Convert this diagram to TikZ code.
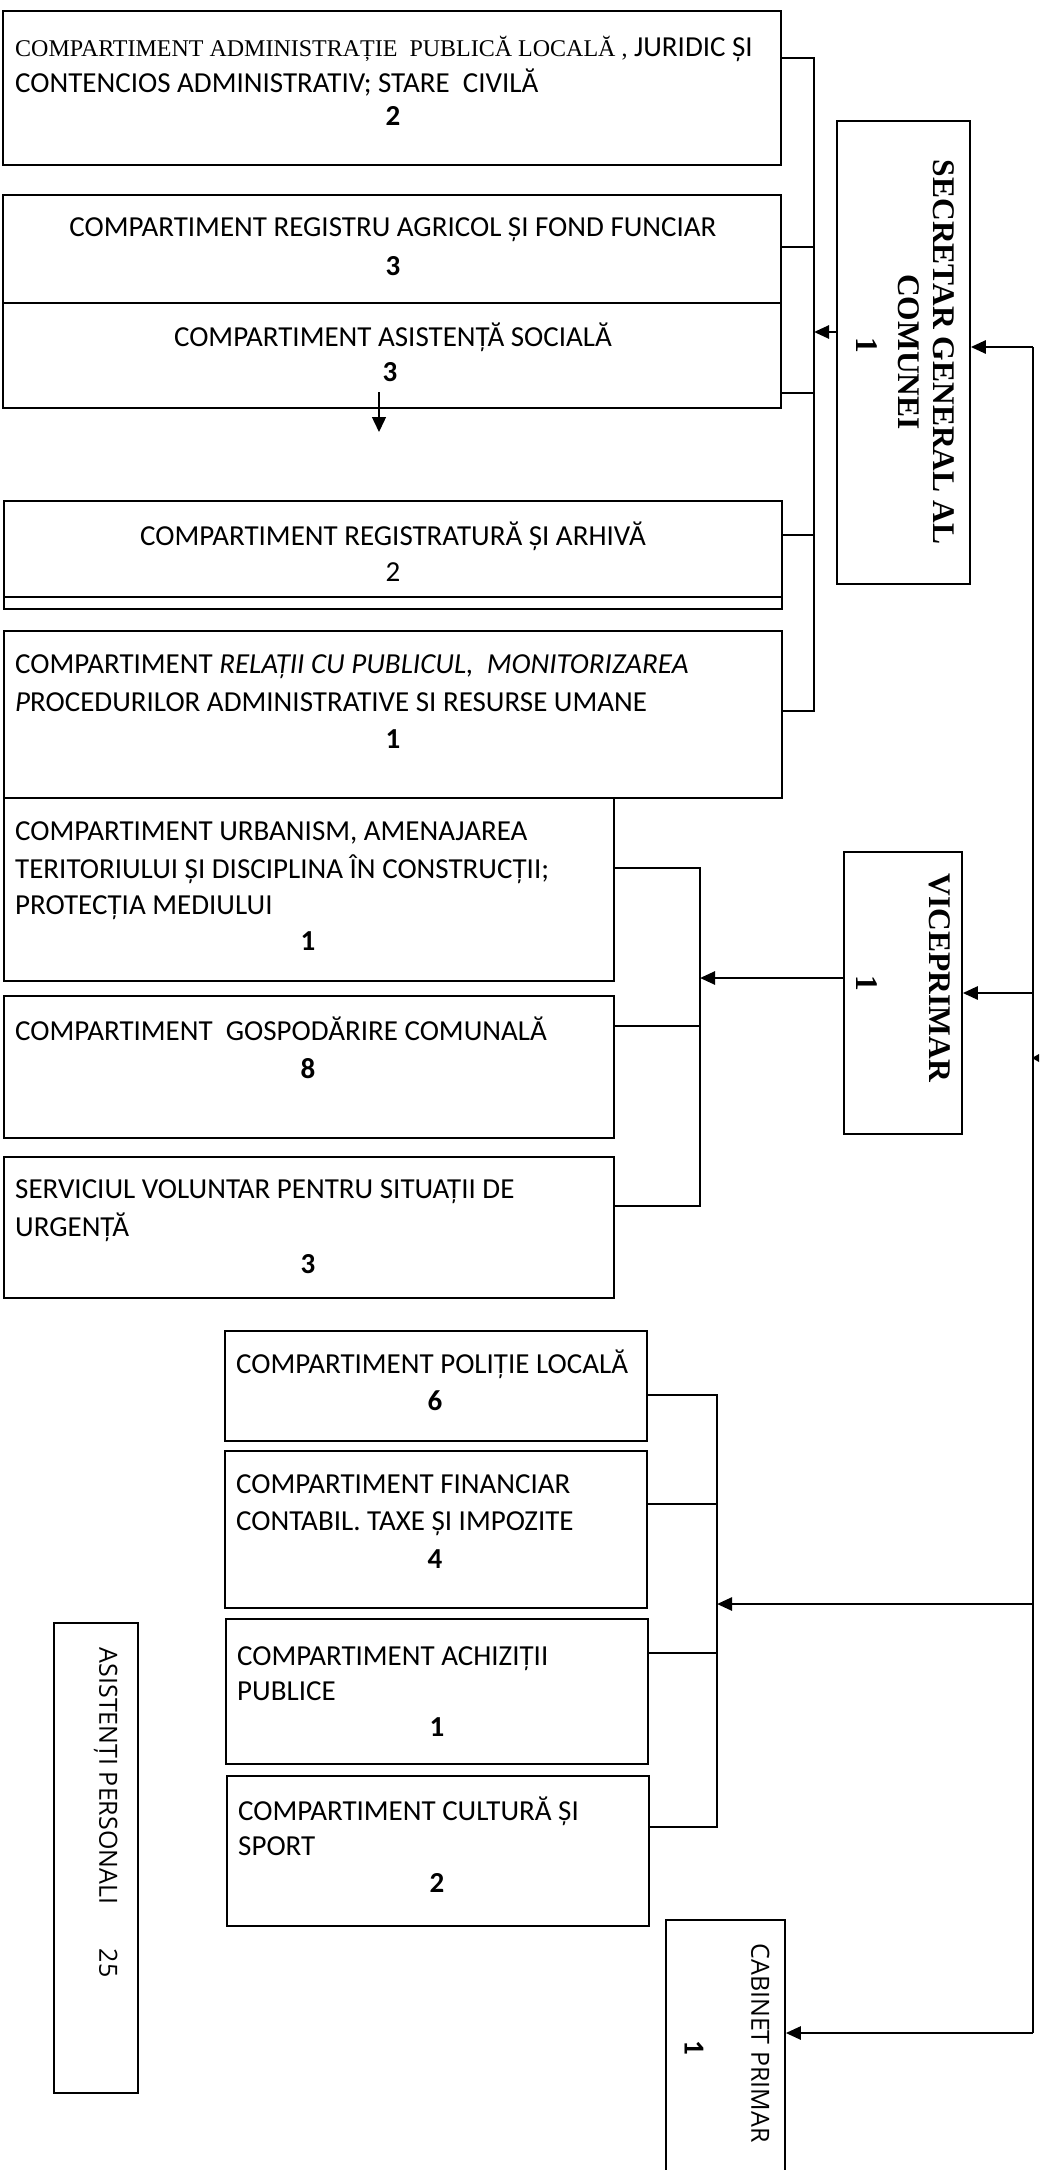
\documentclass[tikz,border=0pt]{standalone}
\usepackage{fontspec}
\setmainfont{Carlito}
\newfontfamily\tnr{Liberation Serif}
\newfontfamily\osans{Open Sans}
\usetikzlibrary{arrows.meta}
\begin{document}
\begin{tikzpicture}[x=1pt,y=-1pt,
  box/.style={draw, line width=1.8pt, rectangle, inner sep=0, anchor=north west},
  lbl/.style={inner sep=0, text height=0.64em, text depth=0pt, font=\fontsize{29}{35}\selectfont},
  num/.style={lbl, font=\fontsize{29}{35}\selectfont\bfseries},
  conn/.style={line width=1.8pt},
  arr/.style={line width=2.6pt, -{Triangle[length=15pt,width=13pt]}},
  arrthin/.style={line width=1.4pt, -{Triangle[length=15pt,width=14pt]}},
  vtnr/.style={inner sep=0, rotate=-90, text height=0.66em, text depth=0pt, font=\tnr\fontsize{31.5}{36}\selectfont\bfseries},
  vsans/.style={inner sep=0, rotate=-90, text height=0.71em, text depth=0pt, font=\osans\fontsize{25}{30}\selectfont},
]
\useasboundingbox (0,0) rectangle (1039,2170);
\fill[white] (0,0) rectangle (1039,2170);

% ---------- boxes ----------
\node[box, minimum width=778, minimum height=154] (bA) at (2,10) {};
\node[box, minimum width=778, minimum height=108] (bB) at (2,194) {};
\node[box, minimum width=778, minimum height=105] (bC) at (2,302) {};
\node[box, minimum width=778, minimum height=108] (bD) at (3,500) {};
\node[box, minimum width=778, minimum height=167] (bE) at (3,630) {};
\node[box, minimum width=610, minimum height=183] (bF) at (3,797) {};
\node[box, minimum width=610, minimum height=142] (bG) at (3,995) {};
\node[box, minimum width=610, minimum height=141] (bH) at (3,1156) {};
\node[box, minimum width=422, minimum height=110] (bP) at (224,1330) {};
\node[box, minimum width=422, minimum height=157] (bFi) at (224,1450) {};
\node[box, minimum width=422, minimum height=145] (bAc) at (225,1618) {};
\node[box, minimum width=422, minimum height=150] (bCu) at (226,1775) {};
\node[box, minimum width=133, minimum height=463] (bS) at (836,120) {};
\node[box, minimum width=118, minimum height=282] (bV) at (843,851) {};
\node[box, minimum width=119, minimum height=280] (bCab) at (665,1919) {};
\node[box, minimum width=84, minimum height=470] (bAs) at (53,1622) {};
\draw[line width=1.8pt] ([yshift=13pt]bD.south west) -- ([yshift=13pt]bD.south east);

% ---------- texts ----------
\node[lbl, anchor=west] (tA1) at (15,53) {{\tnr\fontsize{24}{29}\selectfont COMPARTIMENT ADMINISTRAȚIE\ \ PUBLICĂ LOCALĂ ,} JURIDIC ȘI};
\node[lbl, anchor=west] (tA2) at (15,89) {CONTENCIOS ADMINISTRATIV; STARE\ \ CIVILĂ};
\node[num] (nA) at (393,122) {2};

\node[lbl] (tB) at (393,233) {COMPARTIMENT REGISTRU AGRICOL ȘI FOND FUNCIAR};
\node[num] (nB) at (393,272) {3};

\node[lbl] (tC) at (393,343) {COMPARTIMENT ASISTENȚĂ SOCIALĂ};
\node[num] (nC) at (390,378) {3};

\node[lbl] (tD) at (393,542) {COMPARTIMENT REGISTRATURĂ ȘI ARHIVĂ};
\node[lbl] (nD) at (393,578) {2};

\node[lbl, anchor=west] (tE1) at (15,670) {COMPARTIMENT \textit{RELAȚII CU PUBLICUL,\ \ MONITORIZAREA}};
\node[lbl, anchor=west] (tE2) at (15,708) {\textit{P}ROCEDURILOR ADMINISTRATIVE SI RESURSE UMANE};
\node[num] (nE) at (393,745) {1};

\node[lbl, anchor=west] (tF1) at (15,837) {COMPARTIMENT URBANISM, AMENAJAREA};
\node[lbl, anchor=west] (tF2) at (15,875) {TERITORIULUI ȘI DISCIPLINA ÎN CONSTRUCȚII;};
\node[lbl, anchor=west] (tF3) at (15,911) {PROTECȚIA MEDIULUI};
\node[num] (nF) at (308,947) {1};

\node[lbl, anchor=west] (tG1) at (15,1037) {COMPARTIMENT\ \ GOSPODĂRIRE COMUNALĂ};
\node[num] (nG) at (308,1075) {8};

\node[lbl, anchor=west] (tH1) at (15,1195) {SERVICIUL VOLUNTAR PENTRU SITUAȚII DE};
\node[lbl, anchor=west] (tH2) at (15,1233) {URGENȚĂ};
\node[num] (nH) at (308,1270) {3};

\node[lbl, anchor=west] (tP1) at (236,1370) {COMPARTIMENT POLIȚIE LOCALĂ};
\node[num] (nP) at (435,1407) {6};

\node[lbl, anchor=west] (tFi1) at (236,1490) {COMPARTIMENT FINANCIAR};
\node[lbl, anchor=west] (tFi2) at (236,1527) {CONTABIL. TAXE ȘI IMPOZITE};
\node[num] (nFi) at (435,1565) {4};

\node[lbl, anchor=west] (tAc1) at (237,1662) {COMPARTIMENT ACHIZIȚII};
\node[lbl, anchor=west] (tAc2) at (237,1697) {PUBLICE};
\node[num] (nAc) at (437,1733) {1};

\node[lbl, anchor=west] (tCu1) at (238,1817) {COMPARTIMENT CULTURĂ ȘI};
\node[lbl, anchor=west] (tCu2) at (238,1852) {SPORT};
\node[num] (nCu) at (437,1889) {2};

% rotated texts
\node[vtnr] (tS1) at (937,352) {SECRETAR GENERAL AL};
\node[vtnr] (tS2) at (902,352) {COMUNEI};
\node[vtnr] (tS3) at (860,345) {1};

\node[vtnr] (tV1) at (933,978) {VICEPRIMAR};
\node[vtnr] (tV2) at (860,983) {1};

\node[vsans] (tCab1) at (755,2043) {CABINET PRIMAR};
\node[vtnr, font=\fontsize{29}{35}\selectfont\bfseries] (tCab2) at (688,2048) {1};

\node[vsans] (tAs1) at (103,1776) {ASISTENȚI PERSONALI};
\node[vsans] (tAs2) at (103,1963) {25};

% ---------- connectors ----------
% bus of the secretary
\coordinate (s1) at (814,58);
\coordinate (s2) at (814,247);
\coordinate (s3) at (814,393);
\coordinate (s4) at (814,535);
\coordinate (s5) at (814,711);
\coordinate (sarr) at (814,332);
\draw[conn] (s1 -| bA.east) -- (s1) -- (s5) -- (s5 -| bE.east);
\draw[conn] (s2 -| bB.east) -- (s2);
\draw[conn] (s3 -| bC.east) -- (s3);
\draw[conn] (s4 -| bD.east) -- (s4);
\draw[arr] (sarr -| bS.west) -- (sarr);

% bus of the vice-mayor
\coordinate (v1) at (700,868);
\coordinate (v2) at (700,1026);
\coordinate (v3) at (700,1206);
\coordinate (varr) at (700,978);
\draw[conn] (v1 -| bF.east) -- (v1) -- (v3) -- (v3 -| bH.east);
\draw[conn] (v2 -| bG.east) -- (v2);
\draw[arr] (varr -| bV.west) -- (varr);

% bus of the mayor's compartments
\coordinate (p1) at (717,1395);
\coordinate (p2) at (717,1504);
\coordinate (p3) at (717,1653);
\coordinate (p4) at (717,1827);
\coordinate (parr) at (717,1604);
\draw[conn] (p1 -| bP.east) -- (p1) -- (p4) -- (p4 -| bCu.east);
\draw[conn] (p2 -| bFi.east) -- (p2);
\draw[conn] (p3 -| bAc.east) -- (p3);

% right main line
\coordinate (r1) at (1033,347);
\coordinate (r2) at (1033,993);
\coordinate (r3) at (1033,1604);
\coordinate (r4) at (1033,2033);
\draw[line width=2pt] (r1) -- (r4);
\draw[arr] (r1) -- (r1 -| bS.east);
\draw[arr] (r2) -- (r2 -| bV.east);
\draw[arr] (r3) -- (parr);
\draw[arr] (r4) -- (r4 -| bCab.east);
\fill (1032,1058) -- (1039,1054) -- (1039,1062) -- cycle;

% small arrow in the social-assistance box
\coordinate (dA) at (379,392);
\coordinate (dB) at (379,432);
\draw[arrthin] (dA) -- (dB);
\end{tikzpicture}
\end{document}
